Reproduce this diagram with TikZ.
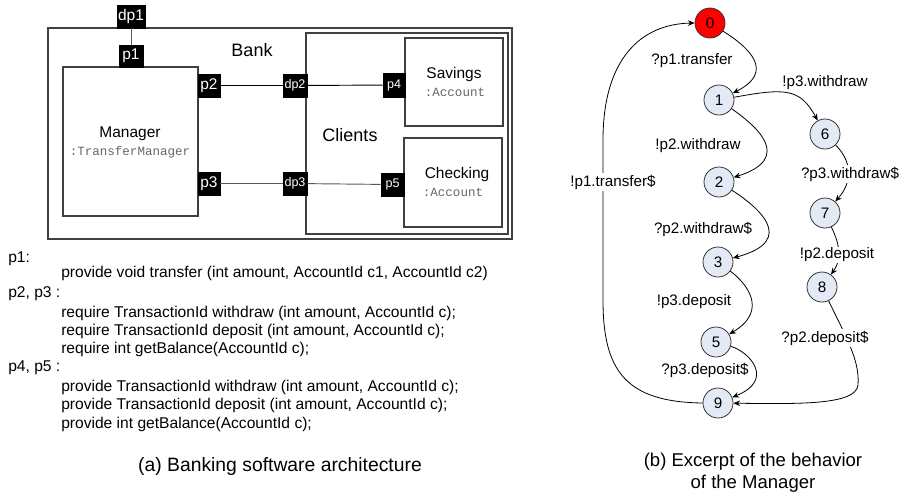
\documentclass[tikz,border=0pt]{standalone}
\usepackage{fontspec}
\setmainfont{Liberation Sans}
\setmonofont{Liberation Mono}
\usetikzlibrary{arrows.meta}
\definecolor{stfill}{HTML}{E4EAF5}
\definecolor{boxline}{HTML}{404040}
\definecolor{typegray}{HTML}{666666}
\begin{document}
\begin{tikzpicture}[x=0.75pt,y=-0.75pt,
  box/.style={draw=boxline, line width=0.9pt, inner sep=0pt},
  port/.style={fill=black, draw=black, text=white, inner sep=0pt, font=\fontsize{11.6}{13}\selectfont},
  sport/.style={port, font=\fontsize{9.4}{11}\selectfont},
  big/.style={inner sep=0pt, font=\fontsize{13.5}{15}\selectfont},
  comp/.style={inner sep=0pt, font=\fontsize{11.6}{13}\selectfont},
  typ/.style={inner sep=0pt, text=typegray, font=\ttfamily\fontsize{9.4}{11}\selectfont},
  txt/.style={inner sep=0pt, anchor=base west, font=\fontsize{11.7}{13}\selectfont},
  captext/.style={inner sep=0pt, align=center, font=\fontsize{13.9}{16.5}\selectfont},
  st/.style={circle, draw=black!80, fill=stfill, minimum size=22.5pt, inner sep=0pt, line width=0.6pt, font=\fontsize{11.4}{13}\selectfont},
  lab/.style={fill=white, inner sep=1pt, font=\fontsize{11.4}{13}\selectfont},
  arr/.style={-{Stealth[length=5pt,width=4.2pt]}, line width=0.6pt},
  conn/.style={line width=0.7pt}
]
\useasboundingbox (0,0) rectangle (900,494);

% ---------- architecture ----------
\node[box, minimum width=348pt, minimum height=158.25pt] (bank) at (280,133.5) {};
\node[box, minimum width=151.5pt, minimum height=150.75pt] (clients) at (407,133.5) {};
\node[box, minimum width=101.25pt, minimum height=111.75pt] (manager) at (130.5,141.5) {};
\node[box, minimum width=73.5pt, minimum height=66pt] (savings) at (454,82) {};
\node[box, minimum width=73.5pt, minimum height=66.75pt] (checking) at (453,182.5) {};

\node[big] (banklab) at (252,50) {Bank};
\node[big] (clientslab) at (350,135) {Clients};
\node[comp] (mgrlab) at (130,134) {Manager};
\node[typ] (mgrtype) at (130,152) {:TransferManager};
\node[comp] (savlab) at (454,74) {Savings};
\node[typ] (savtype) at (455,92) {:Account};
\node[comp] (chklab) at (457,174) {Checking};
\node[typ] (chktype) at (453,192) {:Account};

\node[port, minimum width=21pt, minimum height=17.25pt] (dp1) at (131,16.5) {dp1};
\node[port, minimum width=18pt, minimum height=16.5pt] (p1) at (131,56) {p1};
\node[port, minimum width=16.5pt, minimum height=17.25pt] (p2) at (209,85.5) {p2};
\node[port, minimum width=16.5pt, minimum height=17.25pt] (p3) at (209,183.5) {p3};
\node[sport, minimum width=18pt, minimum height=17.25pt] (dp2) at (295,85.5) {dp2};
\node[sport, minimum width=18pt, minimum height=17.25pt] (dp3) at (295,183.5) {dp3};
\node[sport, minimum width=16.5pt, minimum height=18pt] (p4) at (394,85) {p4};
\node[sport, minimum width=17.25pt, minimum height=17.25pt] (p5) at (392.5,184.5) {p5};

\draw[conn, draw=black!65] (dp1) -- (p1);
\draw[conn] (p2) -- (dp2);
\draw[conn] (dp2) -- (p4);
\draw[conn, draw=black!65] (p3) -- (dp3);
\draw[conn, draw=black!65] (dp3) -- (p5);

% ---------- interface text ----------
\node[txt] (t1) at (8,262) {p1:};
\node[txt] (t2) at (61,277) {provide void transfer (int amount, AccountId c1, AccountId c2)};
\node[txt] (t3) at (8,297) {p2, p3 :};
\node[txt] (t4) at (61,317) {require TransactionId withdraw (int amount, AccountId c);};
\node[txt] (t5) at (61,335) {require TransactionId deposit (int amount, AccountId c);};
\node[txt] (t6) at (61,353) {require int getBalance(AccountId c);};
\node[txt] (t7) at (8,371) {p4, p5 :};
\node[txt] (t8) at (61,391) {provide TransactionId withdraw (int amount, AccountId c);};
\node[txt] (t9) at (61,409.5) {provide TransactionId deposit (int amount, AccountId c);};
\node[txt] (t10) at (61,428) {provide int getBalance(AccountId c);};

\node[captext, font=\fontsize{14.5}{17}\selectfont] (capa) at (280,466) {(a) Banking software architecture};

% ---------- behaviour ----------
\node[st, fill=red] (n0) at (710,23) {0};
\node[st] (n1) at (719,100) {1};
\node[st] (n6) at (825,134) {6};
\node[st] (n2) at (719,182) {2};
\node[st] (n7) at (825,213) {7};
\node[st] (n3) at (718,262) {3};
\node[st] (n8) at (822,287) {8};
\node[st] (n5) at (716,342) {5};
\node[st] (n9) at (718,403) {9};

\draw[arr] (n0) .. controls (750,48) and (775,72) .. (n1);
\draw[arr] (n1) .. controls (755,125) and (795,158) .. (n2);
\draw[arr] (n2) .. controls (755,205) and (800,240) .. (n3);
\draw[arr] (n3) .. controls (745,282) and (770,310) .. (n5);
\draw[arr] (n5) .. controls (750,352) and (775,380) .. (n9);
\draw[arr] (n1) .. controls (785,88) and (800,88) .. (n6);
\draw[arr] (n6) .. controls (855,165) and (850,185) .. (n7);
\draw[arr] (n7) .. controls (835,235) and (845,255) .. (n8);
\draw[arr] (n8) .. controls (845,335) and (860,360) .. (858,385) .. controls (856,405) and (800,404) .. (n9);
\draw[arr] (n9.west) .. controls (625,402) and (603,370) .. (603,300) -- (603,140) .. controls (603,60) and (640,24) .. (n0.west);

\node[lab] (l01) at (692,61) {?p1.transfer};
\node[lab] (l16) at (825,83) {!p3.withdraw};
\node[lab] (l12) at (698,146) {!p2.withdraw};
\node[lab] (l67) at (850,174) {?p3.withdraw\$};
\node[lab] (l90) at (613,182) {!p1.transfer\$};
\node[lab] (l23) at (703,229) {?p2.withdraw\$};
\node[lab] (l78) at (837,255) {!p2.deposit};
\node[lab] (l35) at (694,302) {!p3.deposit};
\node[lab] (l89) at (825,338) {?p2.deposit\$};
\node[lab] (l59) at (705,370) {?p3.deposit\$};

\node[captext] (capb) at (753,473) {(b) Excerpt of the behavior\\of the Manager};
\end{tikzpicture}
\end{document}
